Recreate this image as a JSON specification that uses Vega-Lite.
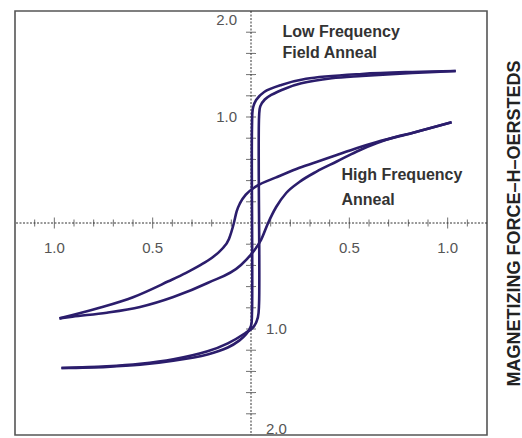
{
  "$schema": "https://vega.github.io/schema/vega-lite/v6.json",
  "autosize": {"type": "none"},
  "padding": {"left": 15, "top": 11, "right": 35, "bottom": 3},
  "width": 472,
  "height": 424,
  "config": {
    "view": {"stroke": "#555", "strokeWidth": 1.6},
    "font": "Liberation Sans"
  },
  "datasets": {
    "hf": [
      {"branch": "HF-desc", "x": 1.02, "y": 0.95},
      {"branch": "HF-desc", "x": 0.82, "y": 0.85},
      {"branch": "HF-desc", "x": 0.64, "y": 0.764},
      {"branch": "HF-desc", "x": 0.54, "y": 0.708},
      {"branch": "HF-desc", "x": 0.436, "y": 0.642},
      {"branch": "HF-desc", "x": 0.333, "y": 0.575},
      {"branch": "HF-desc", "x": 0.231, "y": 0.51},
      {"branch": "HF-desc", "x": 0.128, "y": 0.43},
      {"branch": "HF-desc", "x": 0.026, "y": 0.345},
      {"branch": "HF-desc", "x": -0.025, "y": 0.27},
      {"branch": "HF-desc", "x": -0.055, "y": 0.19},
      {"branch": "HF-desc", "x": -0.073, "y": 0.11},
      {"branch": "HF-desc", "x": -0.087, "y": 0.0},
      {"branch": "HF-desc", "x": -0.112, "y": -0.15},
      {"branch": "HF-desc", "x": -0.15, "y": -0.25},
      {"branch": "HF-desc", "x": -0.2, "y": -0.33},
      {"branch": "HF-desc", "x": -0.26, "y": -0.4},
      {"branch": "HF-desc", "x": -0.33, "y": -0.47},
      {"branch": "HF-desc", "x": -0.42, "y": -0.55},
      {"branch": "HF-desc", "x": -0.6, "y": -0.7},
      {"branch": "HF-desc", "x": -0.77, "y": -0.8},
      {"branch": "HF-desc", "x": -0.974, "y": -0.9},
      {"branch": "HF-asc", "x": -0.974, "y": -0.9},
      {"branch": "HF-asc", "x": -0.908, "y": -0.884},
      {"branch": "HF-asc", "x": -0.733, "y": -0.846},
      {"branch": "HF-asc", "x": -0.564, "y": -0.792},
      {"branch": "HF-asc", "x": -0.395, "y": -0.698},
      {"branch": "HF-asc", "x": -0.221, "y": -0.566},
      {"branch": "HF-asc", "x": -0.051, "y": -0.396},
      {"branch": "HF-asc", "x": 0.01, "y": -0.274},
      {"branch": "HF-asc", "x": 0.051, "y": -0.16},
      {"branch": "HF-asc", "x": 0.087, "y": 0.0},
      {"branch": "HF-asc", "x": 0.128, "y": 0.151},
      {"branch": "HF-asc", "x": 0.179, "y": 0.283},
      {"branch": "HF-asc", "x": 0.246, "y": 0.387},
      {"branch": "HF-asc", "x": 0.333, "y": 0.485},
      {"branch": "HF-asc", "x": 0.436, "y": 0.58},
      {"branch": "HF-asc", "x": 0.538, "y": 0.675},
      {"branch": "HF-asc", "x": 0.641, "y": 0.755},
      {"branch": "HF-asc", "x": 0.73, "y": 0.808},
      {"branch": "HF-asc", "x": 0.82, "y": 0.85},
      {"branch": "HF-asc", "x": 1.02, "y": 0.95}
    ],
    "lf": [
      {"branch": "LF-desc", "order": 1, "x": 1.041, "y": 1.434},
      {"branch": "LF-desc", "order": 2, "x": 0.821, "y": 1.425},
      {"branch": "LF-desc", "order": 3, "x": 0.564, "y": 1.406},
      {"branch": "LF-desc", "order": 4, "x": 0.28, "y": 1.36},
      {"branch": "LF-desc", "order": 5, "x": 0.154, "y": 1.302},
      {"branch": "LF-desc", "order": 6, "x": 0.067, "y": 1.236},
      {"branch": "LF-desc", "order": 7, "x": 0.026, "y": 1.16},
      {"branch": "LF-desc", "order": 8, "x": 0.01, "y": 1.085},
      {"branch": "LF-desc", "order": 9, "x": 0.005, "y": 0.9},
      {"branch": "LF-desc", "order": 10, "x": 0.005, "y": -0.85},
      {"branch": "LF-desc", "order": 11, "x": 0.0, "y": -0.97},
      {"branch": "LF-desc", "order": 12, "x": -0.025, "y": -1.05},
      {"branch": "LF-desc", "order": 13, "x": -0.06, "y": -1.11},
      {"branch": "LF-desc", "order": 14, "x": -0.118, "y": -1.175},
      {"branch": "LF-desc", "order": 15, "x": -0.221, "y": -1.24},
      {"branch": "LF-desc", "order": 16, "x": -0.395, "y": -1.3},
      {"branch": "LF-desc", "order": 17, "x": -0.564, "y": -1.338},
      {"branch": "LF-desc", "order": 18, "x": -0.733, "y": -1.357},
      {"branch": "LF-desc", "order": 19, "x": -0.964, "y": -1.368},
      {"branch": "LF-asc", "order": 1, "x": -0.964, "y": -1.368},
      {"branch": "LF-asc", "order": 2, "x": -0.733, "y": -1.352},
      {"branch": "LF-asc", "order": 3, "x": -0.564, "y": -1.328},
      {"branch": "LF-asc", "order": 4, "x": -0.395, "y": -1.285},
      {"branch": "LF-asc", "order": 5, "x": -0.221, "y": -1.21},
      {"branch": "LF-asc", "order": 6, "x": -0.118, "y": -1.135},
      {"branch": "LF-asc", "order": 7, "x": -0.03, "y": -1.04},
      {"branch": "LF-asc", "order": 8, "x": 0.015, "y": -0.975},
      {"branch": "LF-asc", "order": 9, "x": 0.035, "y": -0.89},
      {"branch": "LF-asc", "order": 10, "x": 0.041, "y": -0.76},
      {"branch": "LF-asc", "order": 11, "x": 0.041, "y": 1.0},
      {"branch": "LF-asc", "order": 12, "x": 0.047, "y": 1.1},
      {"branch": "LF-asc", "order": 13, "x": 0.07, "y": 1.165},
      {"branch": "LF-asc", "order": 14, "x": 0.103, "y": 1.208},
      {"branch": "LF-asc", "order": 15, "x": 0.179, "y": 1.272},
      {"branch": "LF-asc", "order": 16, "x": 0.256, "y": 1.318},
      {"branch": "LF-asc", "order": 17, "x": 0.41, "y": 1.365},
      {"branch": "LF-asc", "order": 18, "x": 0.564, "y": 1.387},
      {"branch": "LF-asc", "order": 19, "x": 0.821, "y": 1.415},
      {"branch": "LF-asc", "order": 20, "x": 1.041, "y": 1.434}
    ],
    "origin": [{"x": 0, "y": 0}],
    "xminor": [
      {"x": -1.1}, {"x": -0.9}, {"x": -0.8}, {"x": -0.7}, {"x": -0.6}, {"x": -0.4}, {"x": -0.3}, {"x": -0.2}, {"x": -0.1},
      {"x": 0.1}, {"x": 0.2}, {"x": 0.3}, {"x": 0.4}, {"x": 0.6}, {"x": 0.7}, {"x": 0.8}, {"x": 0.9}, {"x": 1.1}
    ],
    "xmajor": [{"x": -1.0}, {"x": -0.5}, {"x": 0.5}, {"x": 1.0}],
    "yticks": [
      {"y": -1.8}, {"y": -1.6}, {"y": -1.4}, {"y": -1.2}, {"y": -1.0}, {"y": -0.8}, {"y": -0.6}, {"y": -0.4}, {"y": -0.2},
      {"y": 0.2}, {"y": 0.4}, {"y": 0.6}, {"y": 0.8}, {"y": 1.0}, {"y": 1.2}, {"y": 1.4}, {"y": 1.6}, {"y": 1.8}
    ],
    "xlabels": [
      {"x": -1.0, "label": "1.0"}, {"x": -0.5, "label": "0.5"}, {"x": 0.5, "label": "0.5"}, {"x": 1.0, "label": "1.0"}
    ],
    "ytop": [{"y": 1.0, "label": "1.0"}],
    "ytop2": [{"y": 2.0, "label": "2.0"}],
    "ybot": [{"y": -1.0, "label": "1.0"}],
    "ybot2": [{"y": -2.0, "label": "2.0"}],
    "notes": [
      {"x": 0.16, "y": 1.8, "label": "Low Frequency"},
      {"x": 0.16, "y": 1.6, "label": "Field Anneal"},
      {"x": 0.46, "y": 0.45, "label": "High Frequency"},
      {"x": 0.46, "y": 0.22, "label": "Anneal"}
    ]
  },
  "layer": [
    {
      "data": {"name": "origin"},
      "mark": {"type": "rule", "color": "#333", "strokeWidth": 1, "strokeDash": [2, 1.5]},
      "encoding": {
        "x": {"field": "x", "type": "quantitative", "scale": {"domain": [-1.2, 1.2], "nice": false, "zero": false}, "axis": null}
      }
    },
    {
      "data": {"name": "origin"},
      "mark": {"type": "rule", "color": "#333", "strokeWidth": 1, "strokeDash": [2, 1.5]},
      "encoding": {
        "y": {
          "field": "y", "type": "quantitative", "scale": {"domain": [-2, 2], "nice": false, "zero": false},
          "axis": {
            "orient": "right", "labels": false, "ticks": false, "domain": false, "grid": false,
            "title": "MAGNETIZING FORCE–H–OERSTEDS", "titleAngle": 270, "titleFontSize": 18,
            "titleFontWeight": "bold", "titleColor": "#222", "titlePadding": 32, "titleBaseline": "alphabetic"
          }
        }
      }
    },
    {
      "data": {"name": "xminor"},
      "mark": {"type": "tick", "orient": "vertical", "size": 7, "thickness": 1, "color": "#333"},
      "encoding": {
        "x": {"field": "x", "type": "quantitative"},
        "y": {"datum": 0, "type": "quantitative"}
      }
    },
    {
      "data": {"name": "xmajor"},
      "mark": {"type": "tick", "orient": "vertical", "size": 11, "thickness": 1, "color": "#333"},
      "encoding": {
        "x": {"field": "x", "type": "quantitative"},
        "y": {"datum": 0, "type": "quantitative"}
      }
    },
    {
      "data": {"name": "yticks"},
      "mark": {"type": "tick", "orient": "horizontal", "size": 10, "thickness": 1, "color": "#333"},
      "encoding": {
        "y": {"field": "y", "type": "quantitative"},
        "x": {"datum": 0, "type": "quantitative"}
      }
    },
    {
      "data": {"name": "xlabels"},
      "mark": {"type": "text", "fontSize": 15, "color": "#555", "baseline": "middle", "align": "center", "dy": 25},
      "encoding": {
        "x": {"field": "x", "type": "quantitative"},
        "y": {"datum": 0, "type": "quantitative"},
        "text": {"field": "label"}
      }
    },
    {
      "data": {"name": "ytop"},
      "mark": {"type": "text", "fontSize": 15, "color": "#555", "baseline": "middle", "align": "right", "dx": -14},
      "encoding": {
        "y": {"field": "y", "type": "quantitative"},
        "x": {"datum": 0, "type": "quantitative"},
        "text": {"field": "label"}
      }
    },
    {
      "data": {"name": "ytop2"},
      "mark": {"type": "text", "fontSize": 15, "color": "#555", "baseline": "middle", "align": "right", "dx": -14, "dy": 9},
      "encoding": {
        "y": {"field": "y", "type": "quantitative"},
        "x": {"datum": 0, "type": "quantitative"},
        "text": {"field": "label"}
      }
    },
    {
      "data": {"name": "ybot"},
      "mark": {"type": "text", "fontSize": 15, "color": "#555", "baseline": "middle", "align": "left", "dx": 15},
      "encoding": {
        "y": {"field": "y", "type": "quantitative"},
        "x": {"datum": 0, "type": "quantitative"},
        "text": {"field": "label"}
      }
    },
    {
      "data": {"name": "ybot2"},
      "mark": {"type": "text", "fontSize": 15, "color": "#555", "baseline": "middle", "align": "left", "dx": 15, "dy": -6},
      "encoding": {
        "y": {"field": "y", "type": "quantitative"},
        "x": {"datum": 0, "type": "quantitative"},
        "text": {"field": "label"}
      }
    },
    {
      "data": {"name": "hf"},
      "mark": {"type": "line", "color": "#2b1d6c", "strokeWidth": 2.6, "interpolate": "monotone"},
      "encoding": {
        "x": {"field": "x", "type": "quantitative"},
        "y": {"field": "y", "type": "quantitative"},
        "detail": {"field": "branch"},
        "order": {"field": "x", "type": "quantitative"}
      }
    },
    {
      "data": {"name": "lf"},
      "mark": {"type": "line", "color": "#2b1d6c", "strokeWidth": 2.6, "interpolate": "catmull-rom"},
      "encoding": {
        "x": {"field": "x", "type": "quantitative"},
        "y": {"field": "y", "type": "quantitative"},
        "detail": {"field": "branch"},
        "order": {"field": "order", "type": "quantitative"}
      }
    },
    {
      "data": {"name": "notes"},
      "mark": {"type": "text", "fontSize": 16, "fontWeight": "bold", "color": "#333", "align": "left", "baseline": "middle"},
      "encoding": {
        "x": {"field": "x", "type": "quantitative"},
        "y": {"field": "y", "type": "quantitative"},
        "text": {"field": "label"}
      }
    }
  ]
}
